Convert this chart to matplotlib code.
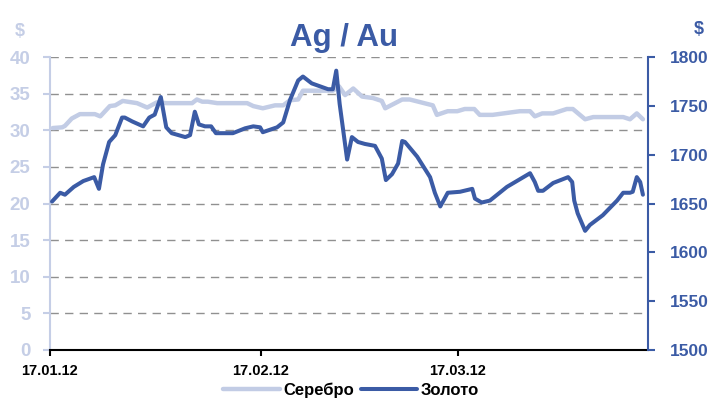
import datetime as dt
import matplotlib
matplotlib.use('Agg')
import matplotlib.pyplot as plt
import matplotlib.dates as mdates

plt.rcParams['font.family'] = ['Liberation Sans', 'DejaVu Sans']

# days counted from 17.01.12
start = dt.datetime(2012, 1, 17)

gold_days = [0.3, 1.5, 2.2, 3.5, 4.9, 6.5, 7.2, 7.8, 8.7, 9.6, 10.6, 11.0, 12.1, 13.7,
             14.6, 15.4, 16.3, 17.1, 17.9, 19.9, 20.6, 21.3, 21.9, 22.8, 23.7, 24.4,
             26.9, 28.7, 29.9, 30.9, 31.3, 33.4, 34.3, 35.3, 36.5, 37.2, 38.5, 39.7,
             40.9, 41.6, 42.1, 42.6, 43.7, 44.4, 45.3, 46.3, 47.8, 48.8, 49.4, 50.3,
             51.2, 51.8, 52.2, 54.0, 55.9, 56.6, 57.4, 58.5, 60.3, 62.1, 62.5, 63.5,
             64.7, 67.2, 70.6, 71.3, 71.8, 72.5, 74.0, 76.2, 76.8, 77.1, 77.6, 78.7,
             79.4, 81.3, 83.4, 84.3, 85.3, 85.7, 86.3, 86.8, 87.2]
gold = [1652, 1661, 1659, 1667, 1673, 1677, 1665, 1690, 1713, 1720, 1738, 1738, 1734, 1729,
        1738, 1741, 1759, 1728, 1722, 1718, 1720, 1744, 1731, 1729, 1729, 1722,
        1722, 1727, 1729, 1728, 1723, 1728, 1733, 1756, 1776, 1780, 1773, 1770,
        1767, 1767, 1786, 1752, 1695, 1718, 1713, 1711, 1709, 1696, 1674, 1680,
        1691, 1714, 1713, 1698, 1677, 1661, 1647, 1661, 1662, 1665, 1655, 1651,
        1653, 1667, 1681, 1672, 1663, 1663, 1671, 1677, 1672, 1653, 1640, 1622,
        1628, 1638, 1653, 1661, 1661, 1662, 1677, 1672, 1659]

silver_days = [0.4, 1.8, 2.2, 3.2, 4.4, 6.6, 7.4, 8.8, 9.6, 10.7, 12.8, 14.3, 15.7, 17.2,
               20.9, 21.6, 22.4, 23.2, 24.6, 29.0, 29.9, 31.3, 33.1, 34.3, 35.3, 36.5,
               37.2, 41.6, 42.5, 43.4, 44.6, 45.9, 47.5, 48.8, 49.3, 51.8, 52.9, 56.3,
               56.9, 58.5, 59.9, 61.0, 62.4, 63.2, 65.1, 69.1, 70.6, 71.3, 72.4, 74.0,
               76.0, 76.9, 78.7, 79.9, 84.3, 85.3, 86.3, 87.2]
silver = [30.3, 30.4, 30.6, 31.6, 32.2, 32.2, 31.9, 33.3, 33.4, 34.0, 33.7, 33.1, 33.8, 33.7,
          33.7, 34.2, 33.9, 33.9, 33.7, 33.7, 33.3, 33.0, 33.4, 33.4, 34.1, 34.2,
          35.4, 35.4, 36.0, 34.8, 35.7, 34.6, 34.4, 34.0, 33.0, 34.2, 34.2, 33.4,
          32.1, 32.6, 32.6, 32.9, 32.9, 32.1, 32.1, 32.6, 32.6, 31.9, 32.3, 32.3,
          32.9, 32.9, 31.5, 31.8, 31.8, 31.5, 32.3, 31.5]

xtick_labels = ['17.01.12', '17.02.12', '17.03.12']
left_ticks = [0, 5, 10, 15, 20, 25, 30, 35, 40]
right_ticks = [1500, 1550, 1600, 1650, 1700, 1750, 1800]

c_gold = '#3B5BA5'
c_silver = '#C2CCE5'
c_left = '#C5CEE6'

gold_x = [start + dt.timedelta(days=d) for d in gold_days]
silver_x = [start + dt.timedelta(days=d) for d in silver_days]
xticks = [dt.datetime.strptime(s, '%d.%m.%y') for s in xtick_labels]

fig = plt.figure(figsize=(7.09, 4.0), dpi=100)
ax = fig.add_axes([0.0705, 0.125, 0.843, 0.7325])
ax2 = ax.twinx()

l1, = ax.plot(silver_x, silver, color=c_silver, lw=3.2, solid_capstyle='round',
              solid_joinstyle='round', label='Серебро')
l2, = ax2.plot(gold_x, gold, color=c_gold, lw=2.9, solid_capstyle='round',
               solid_joinstyle='round', label='Золото')

ax.set_ylim(0, 40)
ax.set_yticks(left_ticks)
ax2.set_ylim(1500, 1800)
ax2.set_yticks(right_ticks)
ax.set_xlim(start, start + dt.timedelta(days=87.9))
ax.set_xticks(xticks)
ax.xaxis.set_major_formatter(mdates.DateFormatter('%d.%m.%y'))

# grid from left axis
for v in left_ticks[1:]:
    ax.axhline(v, color='#909090', lw=1.0, ls=(0, (6, 4.5)), zorder=0)

for a in (ax, ax2):
    a.spines['top'].set_visible(False)
ax.spines['left'].set_color(c_left)
ax.spines['left'].set_linewidth(1.5)
ax.spines['right'].set_visible(False)
ax2.spines['left'].set_visible(False)
ax2.spines['bottom'].set_visible(False)
ax2.spines['right'].set_color(c_gold)
ax2.spines['right'].set_linewidth(1.5)
ax.spines['bottom'].set_color('black')
ax.spines['bottom'].set_linewidth(1.5)

ax.tick_params(axis='y', colors=c_left, labelsize=13.5, length=5, width=1.5, pad=9)
ax2.tick_params(axis='y', colors=c_gold, labelsize=12.5, length=5, width=1.5, pad=11)
ax.tick_params(axis='x', colors='black', labelsize=10.5, length=4, width=1.5, pad=6)
for lab in ax.get_yticklabels() + ax2.get_yticklabels() + ax.get_xticklabels():
    lab.set_fontweight('bold')

fig.text(0.485, 0.905, 'Ag / Au', ha='center', va='center', fontsize=22.5,
         fontweight='bold', color=c_gold)
fig.text(0.028, 0.92, '$', ha='center', va='center', fontsize=13,
         fontweight='bold', color=c_left)
fig.text(0.985, 0.925, '$', ha='center', va='center', fontsize=13,
         fontweight='bold', color=c_gold)

fig.legend(handles=[l1, l2], loc='lower center', bbox_to_anchor=(0.495, -0.033),
           ncol=2, frameon=False, handlelength=3.4, columnspacing=0.4,
           handletextpad=0.2, prop={'weight': 'bold', 'size': 12})

fig.savefig('out.png', dpi=100)
